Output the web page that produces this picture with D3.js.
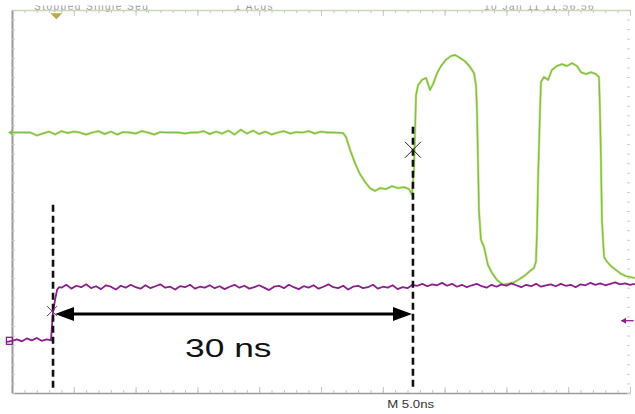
<!DOCTYPE html>
<html>
<head>
<meta charset="utf-8">
<script src="https://cdn.jsdelivr.net/npm/d3@7"></script>
<style>
  html, body { margin: 0; padding: 0; background: #fff; }
  svg { display: block; }
</style>
</head>
<body>
<svg id="chart" width="635" height="414"></svg>
<script>
// ---- DATA (time in ns, amplitude in screen divisions, 0 = centre) ----
const headerTexts = ["Stopped Single Seq", "1 Acqs", "10 Jan 11 11:56:56"];
const timebaseLabel = "M 5.0ns";
const measureLabel = "30 ns";

// green channel: flat part sampled every 0.5 ns from 0 ns
const greenFlat = [1.44,1.44,1.44,1.44,1.38,1.42,1.46,1.40,1.47,1.43,
  1.46,1.44,1.40,1.44,1.47,1.41,1.46,1.40,1.45,1.44,
  1.42,1.47,1.44,1.40,1.45,1.44,1.44,1.44,1.42,1.44,
  1.44,1.47,1.41,1.46,1.42,1.48,1.40,1.50,1.42,1.48,
  1.41,1.46,1.40,1.44,1.47,1.42,1.45,1.44,1.47,1.42,
  1.46,1.44,1.44];
// green channel: edges and pulses [t, v]
const greenEdges = [[26.78,1.43],[27.02,1.35],[27.35,1.08],[27.75,0.80],[28.16,0.57],[28.56,0.41],
  [28.96,0.28],[29.37,0.22],[29.77,0.28],[30.26,0.26],[30.74,0.32],[31.23,0.28],[31.72,0.30],
  [32.12,0.26],[32.36,0.14],[32.52,0.66],[32.61,1.49],[32.69,2.22],[32.85,2.43],[33.17,2.54],
  [33.50,2.58],[33.82,2.33],[34.06,2.45],[34.39,2.68],[34.71,2.83],[35.11,2.96],[35.52,3.04],
  [35.84,3.06],[36.25,3.00],[36.65,2.93],[37.06,2.81],[37.38,2.68],[37.54,2.43],[37.62,1.91],
  [37.70,0.87],[37.78,-0.18],[37.94,-0.80],[38.19,-0.95],[38.51,-1.33],[38.83,-1.49],[39.24,-1.64],
  [39.72,-1.74],[40.13,-1.72],[40.53,-1.70],[40.94,-1.64],[41.42,-1.56],[41.91,-1.45],[42.23,-1.39],
  [42.39,-1.26],[42.48,-0.60],[42.56,0.45],[42.72,1.91],[42.80,2.50],[43.04,2.60],[43.37,2.54],
  [43.69,2.75],[44.09,2.83],[44.50,2.87],[44.90,2.83],[45.31,2.89],[45.71,2.83],[46.04,2.70],
  [46.44,2.66],[46.84,2.70],[47.25,2.66],[47.49,2.60],[47.57,1.91],[47.65,0.87],[47.73,-0.39],
  [47.90,-1.16],[48.14,-1.26],[48.46,-1.35],[48.87,-1.43],[49.27,-1.51],[49.68,-1.56],[50.08,-1.58],[50.40,-1.60]];

// purple channel: low level sampled every 0.4 ns from -0.4 ns
const purpleLow = [-2.93,-2.91,-2.88,-2.92,-2.86,-2.90,-2.85,-2.91,-2.88,-2.90];
// purple rising edge [t, v]
const purpleEdge = [[3.16,-2.87],[3.24,-2.58],[3.32,-2.31],[3.48,-2.06],[3.64,-1.85],[3.80,-1.79]];
// purple high level sampled every 0.4 ns from 4.0 ns
const purpleHigh = [-1.80,-1.74,-1.82,-1.76,-1.79,-1.73,-1.81,-1.77,-1.83,-1.75,
  -1.78,-1.84,-1.76,-1.80,-1.74,-1.79,-1.82,-1.75,-1.81,-1.77,
  -1.73,-1.80,-1.78,-1.84,-1.77,-1.79,-1.74,-1.82,-1.78,-1.80,
  -1.75,-1.81,-1.77,-1.83,-1.78,-1.74,-1.80,-1.76,-1.82,-1.79,
  -1.75,-1.80,-1.85,-1.78,-1.76,-1.81,-1.74,-1.79,-1.83,-1.77,
  -1.80,-1.75,-1.82,-1.78,-1.73,-1.79,-1.81,-1.76,-1.84,-1.78,
  -1.76,-1.81,-1.79,-1.74,-1.82,-1.78,-1.80,-1.75,-1.83,-1.79,
  -1.81,-1.74,-1.76,-1.72,-1.77,-1.73,-1.75,-1.70,-1.76,-1.72,
  -1.78,-1.74,-1.79,-1.75,-1.72,-1.77,-1.80,-1.74,-1.78,-1.73,
  -1.76,-1.71,-1.75,-1.79,-1.74,-1.77,-1.72,-1.78,-1.75,-1.73,
  -1.77,-1.72,-1.76,-1.74,-1.79,-1.73,-1.75,-1.70,-1.74,-1.71,
  -1.75,-1.72,-1.69,-1.73,-1.71,-1.74,-1.72];

// annotations
const cursorLines = [{t:3.32, v0:-0.07, v1:-3.94}, {t:32.44, v0:1.56, v1:-3.94}];
const crossMarks = [{t:32.44, v:1.08, color:"#222", r:8}, {t:3.24, v:-2.29, color:"#7a2a7a", r:5}];
const arrowSpan = {t0:3.48, t1:32.36, v:-2.35};
const labelPos = {t:14.0, v:-3.25};

// ---- SCALES ----
const svg = d3.select("#chart");
const W = 635, H = 414;
const x = d3.scaleLinear().domain([0, 50]).range([12, 630]);
const y = d3.scaleLinear().domain([-4, 4]).range([393, 10]);

svg.append("rect").attr("width", W).attr("height", H).attr("fill", "#fff");

// ---- header text (partially cut at top) ----
svg.append("clipPath").attr("id", "hdr").append("rect").attr("x", 0).attr("y", 5.5).attr("width", W).attr("height", 10);
const hx = [34, 235, 484];
svg.append("g").attr("clip-path", "url(#hdr)").selectAll("text").data(headerTexts).join("text")
  .attr("x", (d, i) => hx[i]).attr("y", 10)
  .attr("font-family", "Liberation Sans, Arial, sans-serif").attr("font-size", 10)
  .attr("letter-spacing", 1.5)
  .attr("fill", "#9a9a9a").text(d => d);

// ---- frame ticks ----
const minorX = d3.range(0, 50.001, 1);
const majorX = d3.range(0, 50.001, 5);
const minorY = d3.range(-4, 4.001, 0.2);

function styleAxis(g, col, dom, domW) {
  g.selectAll(".tick text").remove();
  g.selectAll(".tick line").attr("stroke", col).attr("stroke-width", 1);
  g.select(".domain").attr("stroke", dom).attr("stroke-width", domW);
}
// bottom
svg.append("g").attr("transform", `translate(0,${y(-4)})`)
  .call(d3.axisBottom(x).tickValues(minorX).tickSize(-3).tickSizeOuter(0).tickFormat(""))
  .call(g => styleAxis(g, "#c4c4c4", "#9a9a9a", 1.5));
svg.append("g").attr("transform", `translate(0,${y(-4)})`)
  .call(d3.axisBottom(x).tickValues(majorX).tickSize(-6).tickSizeOuter(0).tickFormat(""))
  .call(g => styleAxis(g, "#c4c4c4", "none", 0));
// top
svg.append("g").attr("transform", `translate(0,${y(4)})`)
  .call(d3.axisTop(x).tickValues(minorX).tickSize(-3).tickSizeOuter(0).tickFormat(""))
  .call(g => styleAxis(g, "#c8c8c8", "#c6dcb2", 1.5));
svg.append("g").attr("transform", `translate(0,${y(4)})`)
  .call(d3.axisTop(x).tickValues(majorX).tickSize(-6).tickSizeOuter(0).tickFormat(""))
  .call(g => styleAxis(g, "#c8c8c8", "none", 0));
// left
svg.append("g").attr("transform", `translate(${x(0)},0)`)
  .call(d3.axisLeft(y).tickValues(minorY).tickSize(-3).tickSizeOuter(0).tickFormat(""))
  .call(g => styleAxis(g, "#c8c8c8", "#9a9a9a", 2));
// right
svg.append("g").attr("transform", `translate(${x(50)},0)`)
  .call(d3.axisRight(y).tickValues(minorY).tickSize(-3).tickSizeOuter(0).tickFormat(""))
  .call(g => styleAxis(g, "#cfcfcf", "none", 0));

// ---- traces ----
const line = d3.line().x(d => x(d[0])).y(d => y(d[1]));
const greenData = greenFlat.map((v, i) => [i * 0.5, v]).concat(greenEdges);
const purpleData = purpleLow.map((v, i) => [-0.4 + i * 0.4, v])
  .concat(purpleEdge)
  .concat(purpleHigh.map((v, i) => [4.0 + i * 0.4, v]));

svg.append("path").datum(greenData).attr("d", line)
  .attr("fill", "none").attr("stroke", "#d8e890").attr("stroke-width", 2.6).attr("stroke-linejoin", "round");
svg.append("path").datum(greenData).attr("d", line)
  .attr("fill", "none").attr("stroke", "#7cc050").attr("stroke-width", 1.4).attr("stroke-linejoin", "round");

svg.append("path").datum(purpleData).attr("d", line)
  .attr("fill", "none").attr("stroke", "#8a1f8c").attr("stroke-width", 1.8).attr("stroke-linejoin", "round");

// channel markers
svg.append("path")
  .attr("d", `M${x(-0.3)},${y(1.44)}l4,-3v6z`).attr("fill", "#7cc050");
svg.append("rect").attr("x", x(-0.45)).attr("y", y(-2.91) - 3.5).attr("width", 6).attr("height", 7)
  .attr("fill", "none").attr("stroke", "#8a1f8c").attr("stroke-width", 1.3);
svg.append("line").attr("x1", x(49.3)).attr("x2", x(50.3)).attr("y1", y(-2.49)).attr("y2", y(-2.49))
  .attr("stroke", "#8a1f8c").attr("stroke-width", 1.3);
svg.append("path").attr("d", `M${x(49.27)},${y(-2.49)}l5,-3v6z`).attr("fill", "#8a1f8c");
// trigger position marker
svg.append("path").attr("d", `M${x(3.1)},${y(3.93)}h12l-6,6z`).attr("fill", "#b7a84e");

// ---- cursor lines ----
svg.selectAll(".cur").data(cursorLines).join("line")
  .attr("x1", d => x(d.t)).attr("x2", d => x(d.t))
  .attr("y1", d => y(d.v0)).attr("y2", d => y(d.v1))
  .attr("stroke", "#111").attr("stroke-width", 2.6).attr("stroke-dasharray", "7,4");

// cross marks
crossMarks.forEach(c => {
  const cx = x(c.t), cy = y(c.v);
  svg.append("path").attr("d", `M${cx - c.r},${cy - c.r}L${cx + c.r},${cy + c.r}M${cx - c.r},${cy + c.r}L${cx + c.r},${cy - c.r}`)
    .attr("stroke", c.color).attr("stroke-width", 1);
});

// ---- double arrow ----
const ax0 = x(arrowSpan.t0), ax1 = x(arrowSpan.t1), ay = y(arrowSpan.v);
svg.append("line").attr("x1", ax0 + 10).attr("x2", ax1 - 10).attr("y1", ay).attr("y2", ay)
  .attr("stroke", "#000").attr("stroke-width", 3);
svg.append("path").attr("d", `M${ax0},${ay}L${ax0 + 19},${ay - 7}L${ax0 + 19},${ay + 7}Z`).attr("fill", "#000");
svg.append("path").attr("d", `M${ax1},${ay}L${ax1 - 19},${ay - 7}L${ax1 - 19},${ay + 7}Z`).attr("fill", "#000");

// label
svg.append("text")
  .attr("transform", `translate(${x(labelPos.t)},${y(labelPos.v)}) scale(1.36,1)`)
  .attr("font-family", "Liberation Sans, Arial, sans-serif").attr("font-size", 26)
  .attr("fill", "#111").text(measureLabel);

// timebase label
svg.append("text")
  .attr("transform", `translate(${x(30.35)},${y(-4) + 15}) scale(1.15,1)`)
  .attr("font-family", "Liberation Sans, Arial, sans-serif").attr("font-size", 11.5)
  .attr("fill", "#333").text(timebaseLabel);
</script>
</body>
</html>
